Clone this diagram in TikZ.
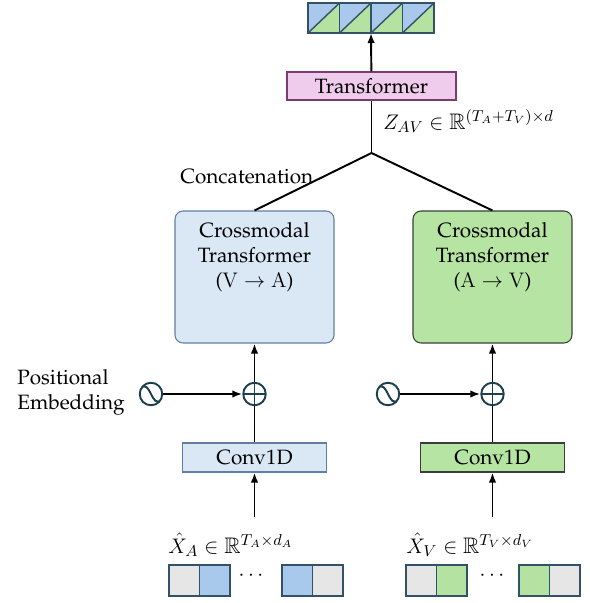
\documentclass[tikz,border=0pt]{standalone}
\usepackage[T1]{fontenc}
\usepackage{amssymb}
\renewcommand{\rmdefault}{ppl}
\usepackage{tikz}
\usetikzlibrary{arrows.meta}
\definecolor{crossblue}{HTML}{DAE8F6}
\definecolor{crossblueline}{HTML}{5F7FA3}
\definecolor{crossgreen}{HTML}{B6E4A2}
\definecolor{darkline}{HTML}{3C3C3C}
\definecolor{transpink}{HTML}{F0CCEC}
\definecolor{transline}{HTML}{7A3C70}
\definecolor{opteal}{HTML}{1C3F4E}
\definecolor{cellblue}{HTML}{A8C9EC}
\definecolor{cellgreen}{HTML}{B4E2A0}
\definecolor{cellgrey}{HTML}{E6E6E6}
\definecolor{cellline}{HTML}{34516A}
\tikzset{%
  >={Latex[width=1.5mm,length=2mm]},
  % Specifications for style of nodes:
            base1/.style = {rectangle, draw=black, line width=0.6pt,
                           text centered, font=\fontsize{11.8}{14.2}\selectfont},
            crossbox/.style = {base1, rounded corners=0.16cm,
                           minimum width=3.18cm, minimum height=2.64cm},
            convbox/.style = {base1, minimum width=2.88cm, minimum height=0.58cm},
       bluecross/.style = {crossbox, fill=crossblue, draw=crossblueline},
       greencross/.style = {crossbox, fill=crossgreen, draw=darkline},
       blueconv/.style = {convbox, fill=crossblue, draw=crossblueline},
       greenconv/.style = {convbox, fill=crossgreen, draw=darkline},
       transbox/.style = {base1, fill=transpink, draw=transline,
                           minimum width=3.38cm, minimum height=0.56cm},
       addop/.style = {circle, draw=opteal, line width=1.1pt, fill=white,
                           minimum size=0.45cm, inner sep=0pt,
                           path picture={\draw[opteal, line width=1.1pt]
                             (path picture bounding box.north) -- (path picture bounding box.south)
                             (path picture bounding box.west) -- (path picture bounding box.east);}},
       posenc/.style = {circle, draw=opteal, line width=1.1pt, fill=white,
                           minimum size=0.45cm, inner sep=0pt,
                           path picture={\draw[opteal, line width=1.1pt,
                             shift={(path picture bounding box.center)}]
                             (-10.5,-6) .. controls (0,-15) and (0,15) .. (10.5,6);}},
       txt/.style = {font=\fontsize{11.8}{14.2}\selectfont, inner sep=0pt},
       mathtxt/.style = {font=\fontsize{12.8}{15}\selectfont, inner sep=0pt},
       conn/.style = {line width=1.1pt}
}

\begin{document}
\begin{tikzpicture}[x=0.02cm, y=-0.02cm]
  \useasboundingbox (0,0) rectangle (590,603);
  % output sequence on top
  \foreach \i in {0,...,3} {
    \fill[cellblue] (308+31.5*\i,3) -- ++(31.5,0) -- ++(-31.5,30) -- cycle;
    \fill[cellgreen] (339.5+31.5*\i,3) -- ++(0,30) -- ++(-31.5,0) -- cycle;
    \draw[cellline, line width=0.8pt] (308+31.5*\i,33) -- ++(31.5,-30);
  }
  \draw[cellline, line width=0.8pt] (308,3) rectangle (434,33);
  \foreach \i in {1,...,3}
    \draw[cellline, line width=0.8pt] (308+31.5*\i,3) -- ++(0,30);
  \coordinate (outseq) at (371,33);

  % transformer and concatenation
  \node (trans)   [transbox] at (371.5,86) {Transformer};
  \coordinate (concat) at (371.5,153);
  \node [mathtxt, anchor=base west] at (383,129) {$Z_{AV} \in \mathbb{R}^{(T_A+T_V)\times d}$};
  \node [txt, anchor=base west] at (180,183) {Concatenation};

  % two crossmodal branches
  \node (xva)     [bluecross] at (254.5,277) {};
  \node [txt, anchor=north, align=center] at ([yshift=-0.24cm]xva.north)
        {Crossmodal\\Transformer\\($\mathrm{V}\to\mathrm{A}$)};
  \node (xav)     [greencross] at (492.5,277) {};
  \node [txt, anchor=north, align=center] at ([yshift=-0.24cm]xav.north)
        {Crossmodal\\Transformer\\($\mathrm{A}\to\mathrm{V}$)};

  \node (plusa)   [addop] at (254.5,394) {};
  \node (plusv)   [addop] at (492.5,394) {};
  \node (sina)    [posenc] at (151,394) {};
  \node (sinv)    [posenc] at (388,394) {};
  \node [txt, anchor=west, align=left] at (17,392) {Positional\\Embedding};

  \node (conva)   [blueconv] at (254.5,457.5) {Conv1D};
  \node (convv)   [greenconv] at (492.5,457.5) {Conv1D};
  \coordinate (ina) at (254.5,517);
  \coordinate (inv) at (492.5,517);

  % connections
  \draw[conn, ->] (trans) -- (outseq);
  \draw[conn] (concat) -- (trans);
  \draw[conn] (concat) -- (xva.north);
  \draw[conn] (concat) -- (xav.north);
  \draw[conn, ->] (plusa) -- (xva);
  \draw[conn, ->] (plusv) -- (xav);
  \draw[conn, ->] (sina) -- (plusa);
  \draw[conn, ->] (sinv) -- (plusv);
  \draw[conn] (conva) -- (plusa);
  \draw[conn] (convv) -- (plusv);
  \draw[conn, ->] (ina) -- (conva);
  \draw[conn, ->] (inv) -- (convv);

  % input sequences
  \node [mathtxt, anchor=base west] at (168,553) {$\hat{X}_A \in \mathbb{R}^{T_A\times d_A}$};
  \node [mathtxt, anchor=base west] at (406,553) {$\hat{X}_V \in \mathbb{R}^{T_V\times d_V}$};
  \begin{scope}[draw=cellline, line width=0.6pt]
    \filldraw[fill=cellgrey]  (169,565) rectangle (199.5,596);
    \filldraw[fill=cellblue]  (199.5,565) rectangle (230,596);
    \filldraw[fill=cellblue]  (282,565) rectangle (312.5,596);
    \filldraw[fill=cellgrey]  (312.5,565) rectangle (343,596);
    \filldraw[fill=cellgrey]  (406,565) rectangle (436.5,596);
    \filldraw[fill=cellgreen] (436.5,565) rectangle (467,596);
    \filldraw[fill=cellgreen] (519,565) rectangle (549.5,596);
    \filldraw[fill=cellgrey]  (549.5,565) rectangle (580,596);
  \end{scope}
  \node [txt] at (251,576) {$\cdots$};
  \node [txt] at (492,576) {$\cdots$};
\end{tikzpicture}
\end{document}
